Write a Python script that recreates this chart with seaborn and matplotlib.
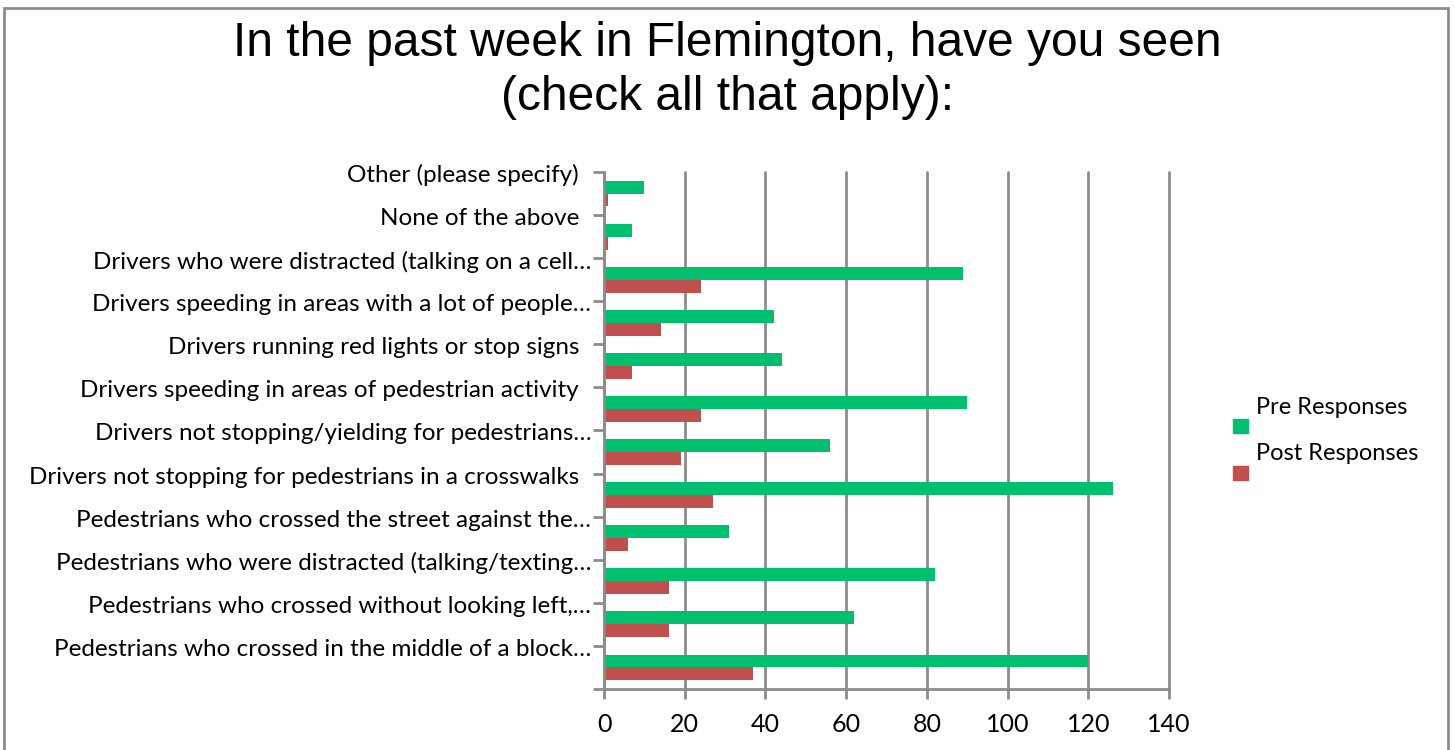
import pandas as pd
import matplotlib.pyplot as plt
import matplotlib.patches as mpatches
import seaborn as sns

# categories, top to bottom as in the chart
categories = [
    "Other (please specify)",
    "None of the above",
    "Drivers who were distracted (talking on a cell\u2026",
    "Drivers speeding in areas with a lot of people\u2026",
    "Drivers running red lights or stop signs",
    "Drivers speeding in areas of pedestrian activity",
    "Drivers not stopping/yielding for pedestrians\u2026",
    "Drivers not stopping for pedestrians in a crosswalks",
    "Pedestrians who crossed the street against the\u2026",
    "Pedestrians who were distracted (talking/texting\u2026",
    "Pedestrians who crossed without looking left,\u2026",
    "Pedestrians who crossed in the middle of a block\u2026",
]
pre_responses = [10, 7, 89, 42, 44, 90, 56, 126, 31, 82, 62, 120]
post_responses = [1, 1, 24, 14, 7, 24, 19, 27, 6, 16, 16, 37]
series_names = ["Pre Responses", "Post Responses"]
colors = ["#00BF6F", "#C0504D"]
x_ticks = [0, 20, 40, 60, 80, 100, 120, 140]

df = pd.DataFrame({
    "category": categories * 2,
    "value": pre_responses + post_responses,
    "series": [series_names[0]] * len(categories) + [series_names[1]] * len(categories),
})

sns.set_style("white")
plt.rcParams["font.family"] = ["Lato", "DejaVu Sans"]
plt.rcParams["text.color"] = "black"
plt.rcParams["xtick.color"] = "black"
plt.rcParams["ytick.color"] = "black"

fig = plt.figure(figsize=(14.55, 7.5), dpi=100)
ax = fig.add_axes([604 / 1455, 1 - 689 / 750, (1169 - 604) / 1455, (689 - 172) / 750])

sns.barplot(data=df, x="value", y="category", hue="series", order=categories,
            hue_order=series_names, palette=colors, orient="h", width=0.6,
            saturation=1, linewidth=0, ax=ax, legend=False)

ax.set_xlim(0, 140)
ax.set_ylim(len(categories) - 0.5, -0.5)
ax.set_xticks(x_ticks)
ax.set_xticklabels([str(t) for t in x_ticks], fontsize=18)
ax.xaxis.grid(True, color="#8c8c8c", linewidth=2)
for gl in ax.get_xgridlines():
    gl.set_clip_on(False)
ax.set_axisbelow(True)

# category labels sit near the band tops (like the original),
# tick marks go on the band boundaries
labels = [c if c.endswith("\u2026") else c + "  " for c in categories]
ax.set_yticks([i - 0.42 for i in range(len(categories))])
ax.set_yticklabels(labels, fontsize=17.5, va="center")
ax.set_yticks([i - 0.5 for i in range(len(categories) + 1)], minor=True)
ax.tick_params(axis="y", which="major", length=0, pad=9)
ax.tick_params(axis="y", which="minor", length=8, width=2, color="#8c8c8c", left=True)
ax.tick_params(axis="x", length=7, width=2, color="#8c8c8c", pad=10, bottom=True)
ax.set_xlabel("")
ax.set_ylabel("")

for side in ["top", "right"]:
    ax.spines[side].set_visible(False)
for side in ["left", "bottom"]:
    ax.spines[side].set_color("#8c8c8c")
    ax.spines[side].set_linewidth(2)

fig.text(0.5, 0.906, "In the past week in Flemington, have you seen\n(check all that apply):",
         ha="center", va="center", fontsize=34.5, family="Liberation Sans", linespacing=1.25)

# legend drawn Excel-style: square sits below its text
legend_text_y = [407, 454]
for i, (s, c) in enumerate(zip(series_names, colors)):
    fig.patches.append(mpatches.Rectangle((1233 / 1455, 1 - (legend_text_y[i] + 26) / 750),
                                          15 / 1455, 14 / 750, transform=fig.transFigure,
                                          color=c))
    fig.text(1256 / 1455, 1 - legend_text_y[i] / 750, s, fontsize=17, va="center", ha="left")

# outer chart border
fig.patches.append(mpatches.Rectangle((4 / 1455, -0.05), 1444 / 1455, 1.05 - 8 / 750,
                                      transform=fig.transFigure, fill=False,
                                      edgecolor="#8c8c8c", linewidth=2))

fig.savefig("out.png", dpi=100)
